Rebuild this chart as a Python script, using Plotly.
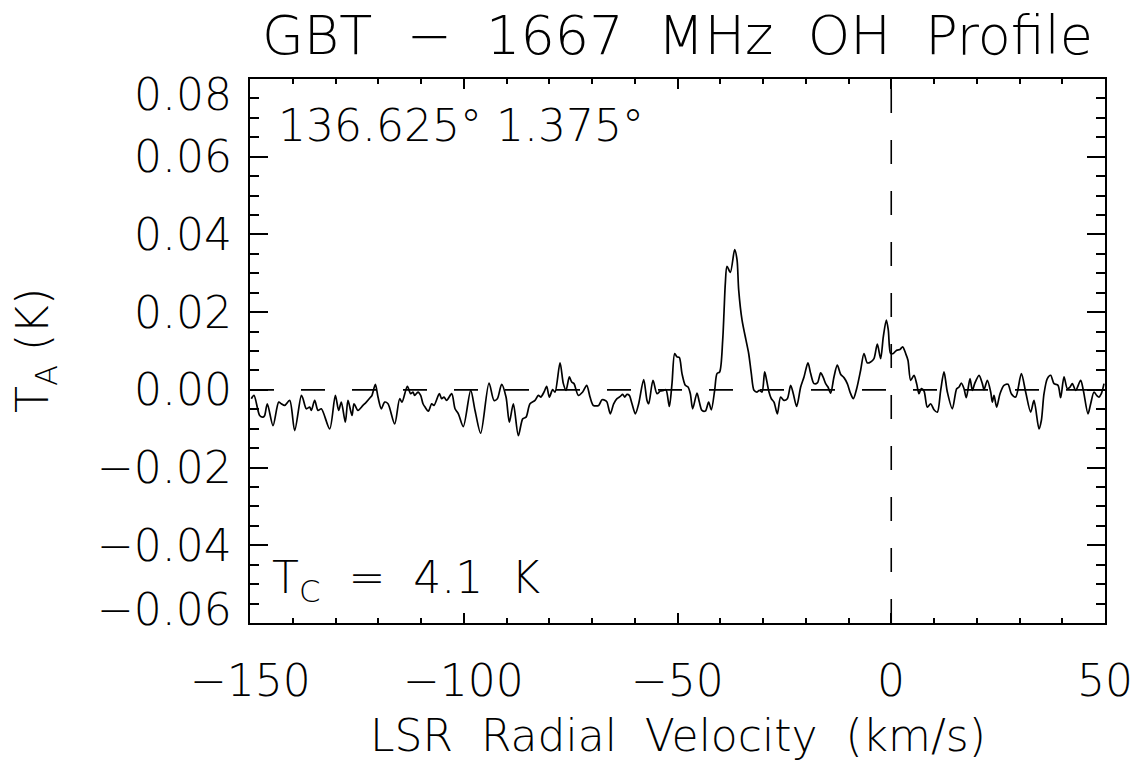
import plotly.graph_objects as go

# ---- data ----
velocity = [
    -149.69, -149.06, -147.74, -146.96, -146.57, -145.95, -144.62, -143.29, -142.67, -141.89,
    -140.72, -139.55, -137.99, -137.6, -136.82, -136.04, -135.65, -134.87, -134.09, -133.31,
    -131.36, -130.04, -129.26, -128.64, -127.7, -127.08, -126.14, -125.67, -124.74, -123.57,
    -122.79, -121.77, -121.46, -120.68, -120.06, -119.28, -118.5, -117.72, -116.16, -114.99,
    -114.44, -113.2, -112.42, -111.87, -111.48, -110.7, -110.08, -109.53,
    -109.06, -108.28, -107.5, -106.96, -105.71, -105.16, -104.62, -104.0, -102.82, -102.04,
    -101.26, -100.1, -98.38, -97.36, -96.04, -94.09, -92.92, -92.14, -91.13, -90.11,
    -89.33, -88.4, -87.23, -86.21, -85.43, -84.5, -83.33, -82.55, -82.0, -81.22,
    -80.6, -79.98, -79.2, -78.65, -77.48, -76.7, -76.08, -75.3, -74.75, -74.21,
    -73.19, -72.18, -71.24, -70.46, -69.68,
    -68.44, -67.66, -66.88, -66.49, -65.71, -64.93, -64.15, -63.37, -62.83, -62.36,
    -61.81, -61.27, -60.64, -59.86, -59.08, -57.91, -57.13, -56.74, -55.73, -54.8,
    -54.02, -53.24, -52.69, -51.91, -51.29, -50.66, -50.12, -49.57, -48.95, -48.17,
    -47.54, -47.0, -46.45, -45.44, -44.89, -44.27, -43.49, -42.71, -42.09, -41.31,
    -40.76, -40.14, -39.43, -39.13, -38.81, -38.42, -37.64, -36.63, -36.08, -35.69,
    -34.91, -33.98, -33.35, -32.73, -32.1, -31.4, -30.86, -30.23, -29.61,
    -29.15, -28.6, -28.05, -27.43, -26.65, -25.87, -25.09, -24.31, -23.53, -22.91,
    -22.13, -21.19, -20.41, -19.48, -18.85, -18.07, -17.29, -16.51, -15.89, -15.34,
    -14.8, -14.17, -13.4, -12.62, -11.84, -11.06, -10.28, -9.5, -8.87, -8.09,
    -7.16, -6.38, -5.6, -4.82, -4.04, -3.26, -2.48, -1.86, -1.15, -0.69,
    -0.14, 0.48, 1.26, 2.04, 2.67, 3.37, 3.91, 4.54, 5.32, 5.94,
    6.49, 7.03, 7.66, 8.44, 9.22, 10.0, 10.78,
    11.56, 12.34, 13.12, 14.29, 15.3, 15.85, 16.39, 17.02, 17.56, 18.42,
    18.97, 19.51, 20.53, 21.31, 21.7, 22.48, 23.26, 23.65, 24.04, 24.66,
    25.44, 26.37, 27.31, 28.09, 29.1, 30.43, 31.44, 32.61, 33.39, 34.56,
    35.11, 35.73, 36.51, 37.29, 38.07, 39.01, 39.63, 40.41, 41.19, 41.81,
    42.36, 43.14, 44.31, 44.93, 46.02, 46.65, 47.43, 48.05, 48.6, 49.14, 49.77,
]
antenna_temp = [
    -0.00228, -0.00142, -0.0066, -0.00703, -0.0066, -0.00358, -0.00918, -0.00315, -0.00358, -0.00401,
    -0.00272, -0.01048, -0.00142, -0.00228, -0.00487, -0.00444, -0.0053, -0.00272, -0.0053, -0.00487,
    -0.01005, -0.00142, -0.0053, -0.00315, -0.00832, -0.00272, -0.0066, -0.00358, -0.0053, -0.00401,
    -0.00315, -0.00185, -0.00142, 0.00142, -0.00185, -0.00487, -0.00315, -0.00358, -0.00875, -0.00228,
    -0.00315, 0.0009, -0.00099, -0.00056, -0.00142, -0.00056, -0.00142, -0.00358,
    -0.00444, -0.00548, -0.00358, -0.00401, -0.00099, -0.00228, -0.00185, -0.00272, -0.00099, -0.00487,
    -0.00616, -0.00944, -0.00013, -0.0053, -0.01117, 0.00177, -0.00272, -0.00228, 0.00142, -0.00185,
    -0.00832, -0.00358, -0.01177, -0.00746, -0.00703, -0.00358, -0.00272, -0.00142, -0.00185, -0.00056,
    0.00091, -0.00185, 0.00004, -0.00056, 0.00694, 0.0016, -0.00013, 0.00332, 0.00203, 0.0016,
    -0.00142, -0.00056, 0.00116, -0.00185, -0.00401,
    -0.00401, -0.00254, -0.00272, -0.00315, -0.00616, -0.00358, -0.00228, -0.00168, -0.00116, -0.00185,
    -0.00116, -0.00142, -0.00358, -0.00616, -0.00358, 0.00263, -0.00272, -0.00358, 0.00246, -0.00099,
    -0.0003, -0.00013, 0.00004, -0.00427, 0.0016, 0.00936, 0.00849, 0.00832, 0.00418, 0.00116,
    0.00073, -0.00099, -0.00487, -0.00082, -0.00315, -0.0053, -0.00547, -0.00315, -0.00513, -0.00013,
    0.00418, 0.00461, 0.0128, 0.0197, 0.02746, 0.03178, 0.03022, 0.03609, 0.0335, 0.02574,
    0.01798, 0.0128, 0.00936, 0.00418, -0.00013, -0.00056, -0.00013, -0.00056, 0.00461,
    0.00246, -0.00056, -0.00228, -0.00315, -0.00616, -0.00185, -0.00272, -0.00228, 0.00116, -0.00099,
    -0.00427, 0.00073, 0.00332, 0.00694, 0.00418, 0.0016, 0.00177, 0.00435, 0.00315, 0.0016,
    0.00073, -0.00082, 0.00332, 0.00634, 0.00401, 0.00315, 0.0016, -0.00099, -0.00228, 0.0003,
    0.00504, 0.00936, 0.00694, 0.00719, 0.00806, 0.01177, 0.00806, 0.01366, 0.01798, 0.01539,
    0.00936, 0.00936, 0.01022, 0.0104, 0.01107, 0.00936, 0.00763, 0.00246, 0.00375, 0.0016,
    -0.00099, 0.0003, -0.0003, -0.00445, -0.00357, -0.00512, -0.00574,
    -0.00013, 0.00461, -0.00056, -0.00487, 0.0003, 0.00073, 0.00177, 0.0003, -0.00203, 0.0029,
    -0.00013, 0.0016, 0.00375, 0.0016, 0.00004, 0.00246, -0.00056, -0.00315, -0.00142, -0.00444,
    -0.00099, 0.00116, 0.00142, -0.00099, -0.00185, 0.00418, -0.00056, -0.00573, -0.00272, -0.01005,
    -0.00789, -0.00099, 0.0029, 0.00375, 0.0016, 0.00116, -0.00203, 0.00332, 0.0003, 0.00073,
    0.0016, -0.00013, 0.00246, -0.00013, -0.00616, -0.00357, -0.00056, -0.00142, -0.00185, -0.00099, 0.0016,
]

x_tick_values = [-150, -100, -50, 0, 50]
x_tick_labels = ["\u2212150", "\u2212100", "\u221250", "0", "50"]
y_tick_values = [0.08, 0.06, 0.04, 0.02, 0.00, -0.02, -0.04, -0.06]
y_tick_labels = ["0.08", "0.06", "0.04", "0.02", "0.00", "\u22120.02", "\u22120.04", "\u22120.06"]

NB2 = "\u00a0\u00a0"
title_text = NB2.join(["GBT", "\u2212", "1667", "MHz", "OH", "Profile"])
x_title = NB2.join(["LSR", "Radial", "Velocity", "(km/s)"])
y_title = "T<sub>A</sub>\u00a0(K)"
position_text = "136.625\u00b0\u00a01.375\u00b0"
continuum_text = NB2.join(["T<sub>C</sub>", "=", "4.1", "K"])

x_range = [-150, 50]
y_range = [-0.06, 0.08]

FONT = "DejaVu Sans"
BIG = dict(family=FONT, size=44, color="black", weight=200)

fig = go.Figure()
fig.add_trace(go.Scatter(
    x=velocity, y=antenna_temp, mode="lines",
    line=dict(color="black", width=1.7, shape="spline", smoothing=0.8),
    hoverinfo="skip", showlegend=False,
))

# dashed reference lines
fig.add_shape(type="line", xref="x", yref="y", x0=x_range[0], x1=x_range[1], y0=0, y1=0,
              line=dict(color="black", width=1.6, dash="24px,27px"))
fig.add_shape(type="line", xref="x", yref="y", x0=0, x1=0, y0=y_range[0], y1=y_range[1],
              line=dict(color="black", width=1.6, dash="24px,27px"))

annotations = []
for v, lab in zip(x_tick_values, x_tick_labels):
    annotations.append(dict(x=v, xref="x", y=0, yref="paper", text=lab, showarrow=False,
                            xanchor="center", yanchor="middle", yshift=-57, font=BIG))
for v, lab in zip(y_tick_values, y_tick_labels):
    shift = 0
    if v == y_range[1]:
        shift = -15
    elif v == y_range[0]:
        shift = 14
    annotations.append(dict(x=0, xref="paper", y=v, yref="y", text=lab, showarrow=False,
                            xanchor="right", yanchor="middle", xshift=-16, yshift=shift, font=BIG))
annotations += [
    dict(x=0.5, xref="paper", y=1, yref="paper", text=title_text, showarrow=False,
         xanchor="center", yanchor="middle", yshift=44,
         font=dict(family=FONT, size=54, color="black", weight=200)),
    dict(x=0.5, xref="paper", y=0, yref="paper", text=x_title, showarrow=False,
         xanchor="center", yanchor="middle", yshift=-112,
         font=dict(family=FONT, size=44, color="black", weight=200)),
    dict(x=0, xref="paper", y=0.5, yref="paper", text=y_title, showarrow=False,
         xanchor="center", yanchor="middle", xshift=-215, textangle=-90, font=BIG),
    dict(x=0, xref="paper", y=0.915, yref="paper", text=position_text, showarrow=False,
         xanchor="left", yanchor="middle", xshift=26, font=BIG),
    dict(x=0, xref="paper", y=0.079, yref="paper", text=continuum_text, showarrow=False,
         xanchor="left", yanchor="middle", xshift=20, font=BIG),
]

axis_common = dict(showline=True, linecolor="black", linewidth=2, mirror="ticks",
                   ticks="inside", tickcolor="black", tickwidth=1.5,
                   showgrid=False, zeroline=False, showticklabels=False)

fig.update_layout(
    width=1146, height=762,
    margin=dict(l=250, r=41, t=79, b=139),
    paper_bgcolor="white", plot_bgcolor="white",
    xaxis=dict(range=x_range, tick0=-150, dtick=50, ticklen=10,
               minor=dict(ticks="inside", dtick=10, tick0=-150, ticklen=5, tickcolor="black", tickwidth=1.5),
               **axis_common),
    yaxis=dict(range=y_range, tick0=-0.06, dtick=0.02, ticklen=18,
               minor=dict(ticks="inside", dtick=0.005, tick0=-0.06, ticklen=9, tickcolor="black", tickwidth=1.5),
               **axis_common),
    annotations=annotations,
    showlegend=False,
)

fig.write_html("out.html")
